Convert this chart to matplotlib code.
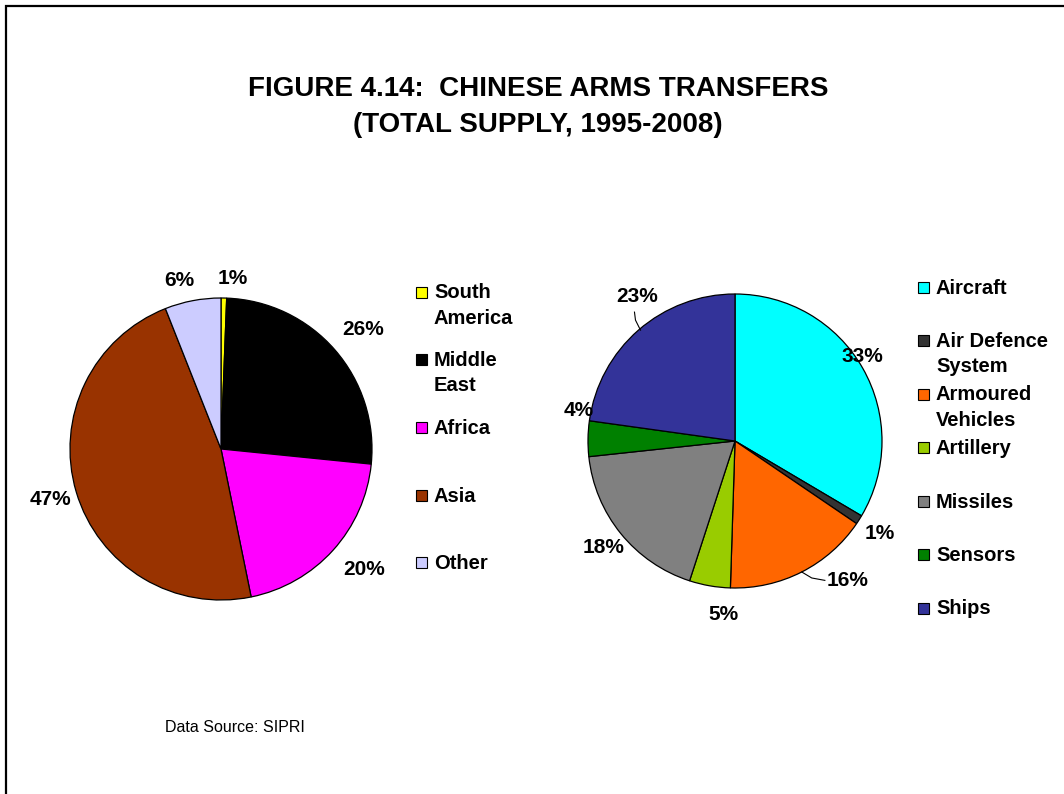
import numpy as np
import matplotlib
matplotlib.use("Agg")
import matplotlib.pyplot as plt
from matplotlib.patches import Rectangle

plt.rcParams['font.family'] = ['Liberation Sans', 'DejaVu Sans']

# ---- data ----
regions = ["South\nAmerica", "Middle\nEast", "Africa", "Asia", "Other"]
region_share = [0.6, 26.0, 20.2, 47.2, 6.0]
region_labels = ["1%", "26%", "20%", "47%", "6%"]
region_colors = ["#FFFF00", "#000000", "#FF00FF", "#993300", "#CCCCFF"]

weapons = ["Aircraft", "Air Defence\nSystem", "Armoured\nVehicles", "Artillery",
           "Missiles", "Sensors", "Ships"]
weapon_share = [33.5, 1.0, 16.0, 4.5, 18.3, 3.9, 22.8]
weapon_labels = ["33%", "1%", "16%", "5%", "18%", "4%", "23%"]
weapon_colors = ["#00FFFF", "#333333", "#FF6600", "#99CC00", "#808080", "#008000", "#333399"]

# ---- layout (pixel space) ----
W, H = 1064, 794
fig = plt.figure(figsize=(W / 100, H / 100), dpi=100)
ax = fig.add_axes([0, 0, 1, 1])

def Y(y):
    return H - y

LABEL_FS = 15
LEGEND_FS = 14.5

# frame
ax.plot([6, 6, W + 5], [Y(H + 5), Y(6), Y(6)], color="black", lw=1.6,
        solid_joinstyle="miter", clip_on=False)

ax.text(538, Y(89), "FIGURE 4.14:  CHINESE ARMS TRANSFERS", ha="center", va="center",
        fontsize=20, fontweight="bold")
ax.text(538, Y(125), "(TOTAL SUPPLY, 1995-2008)", ha="center", va="center",
        fontsize=20, fontweight="bold")
ax.text(165, Y(728), "Data Source: SIPRI", ha="left", va="center", fontsize=11.5)

def draw_pie(values, colors, labels, center, radius, label_dist, label_shift, leaders):
    cx, cy = center
    ax.pie(values, colors=colors, startangle=90, counterclock=False,
           center=(cx, Y(cy)), radius=radius,
           wedgeprops=dict(edgecolor="black", linewidth=0.9))
    total = float(sum(values))
    cum = 0.0
    for v, lab, d, s, lead in zip(values, labels, label_dist, label_shift, leaders):
        mid = (cum + v / 2) / total * 360.0  # clockwise from top
        cum += v
        a = np.deg2rad(mid + s)
        tx = cx + d * radius * np.sin(a)
        ty = cy - d * radius * np.cos(a)
        ax.text(tx, Y(ty), lab, ha="center", va="center", fontsize=LABEL_FS,
                fontweight="bold")
        if lead:
            am = np.deg2rad(mid)
            ex = cx + radius * np.sin(am)
            ey = cy - radius * np.cos(am)
            xs, ys = lead(ex, ey, tx, ty)
            ax.plot(xs, ys, color="black", lw=0.8)

def lead_16(ex, ey, tx, ty):
    xs = [ex, ex + 10, tx - 23]
    ys = [ey, ey + 6, ty]
    return xs, [Y(v) for v in ys]

def lead_23(ex, ey, tx, ty):
    xs = [ex + 2, ex - 3, ex - 4]
    ys = [ey, ey - 10, ey - 18]
    return xs, [Y(v) for v in ys]

draw_pie(region_share, region_colors, region_labels, (221, 449), 151,
         [1.13, 1.23, 1.24, 1.18, 1.15], [3, 1, -2, 0, -3], [None] * 5)
draw_pie(weapon_share, weapon_colors, weapon_labels, (735, 441), 147,
         [1.04, 1.17, 1.22, 1.18, 1.15, 1.08, 1.19],
         [-4, 0, -12, -6, 0, 10, 7],
         [None, None, lead_16, None, None, None, lead_23])

def draw_legend(names, colors, x0, ys):
    for name, col, y in zip(names, colors, ys):
        ax.add_patch(Rectangle((x0 - 5.5, Y(y) - 5.5), 11, 11, facecolor=col,
                               edgecolor="black", lw=0.8))
        ax.text(x0 + 13, Y(y) + 8.5, name, ha="left", va="top", fontsize=LEGEND_FS,
                fontweight="bold", linespacing=1.4)

draw_legend(regions, region_colors, 421, np.arange(5) * 67.7 + 292)
draw_legend(weapons, weapon_colors, 923, np.arange(7) * 53.5 + 287)

ax.set_xlim(0, W)
ax.set_ylim(0, H)
ax.set_aspect("auto")
ax.axis("off")
fig.savefig("out.png", dpi=100)
